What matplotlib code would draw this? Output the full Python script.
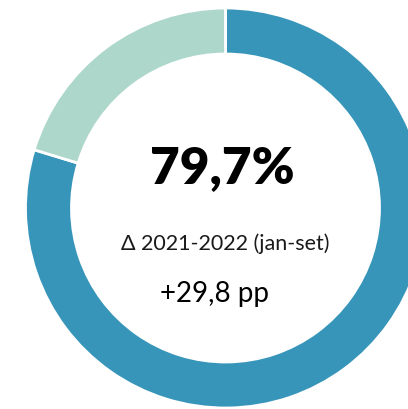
import matplotlib.pyplot as plt

# valores do gráfico
rotulos = ['2022 (jan-set)', 'Restante']
valores = [79.7, 20.3]
cores = ['#3795BA', '#AED7CB']
texto_principal = '79,7%'
texto_delta = 'Δ 2021-2022 (jan-set)'
texto_variacao = '+29,8 pp'

W, H = 408, 409
fig = plt.figure(figsize=(W / 100, H / 100), dpi=100)
ax = fig.add_axes([0, 0, 1, 1])

cx, cy = 225.5, H - 208
ax.pie(valores, colors=cores, startangle=90, counterclock=False,
       radius=200, center=(cx, cy),
       wedgeprops=dict(width=46, edgecolor='white', linewidth=2))

ax.set_xlim(0, W)
ax.set_ylim(0, H)
ax.set_aspect('equal')
ax.axis('off')

ax.text(222, H - 183, texto_principal, ha='center', va='baseline',
        fontsize=37, fontweight='heavy', family='Lato', color='black')
ax.text(225, H - 250, texto_delta, ha='center', va='baseline',
        fontsize=15.5, family='Lato', color='#1a1a1a')
ax.text(214, H - 302, texto_variacao, ha='center', va='baseline',
        fontsize=20, family='Lato', color='black')

fig.savefig('out.png', dpi=100)
